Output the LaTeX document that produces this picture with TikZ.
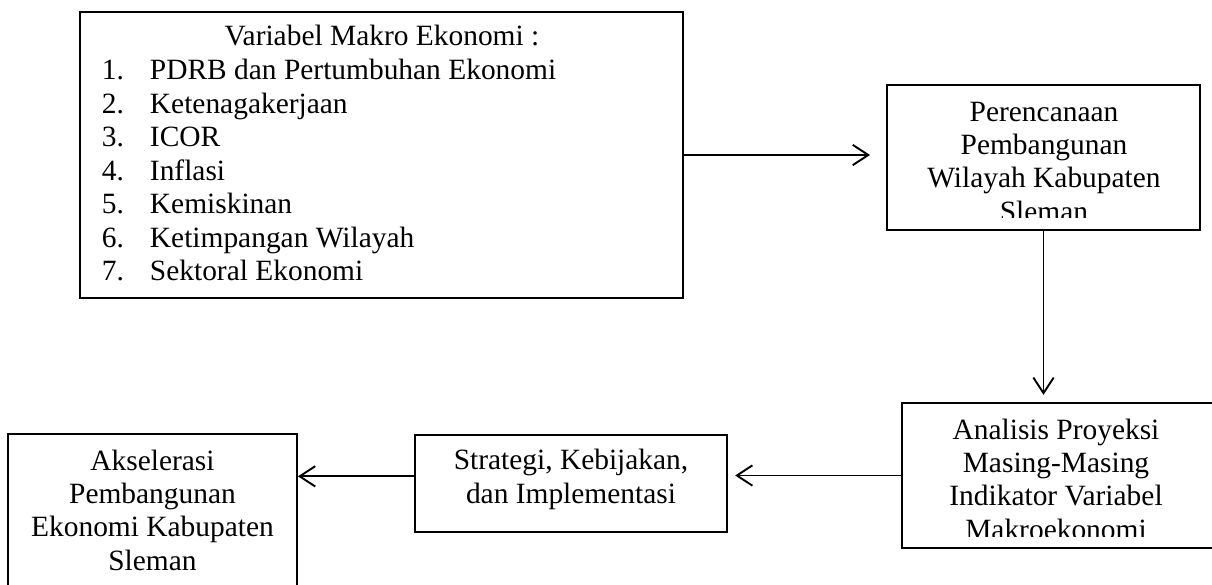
\documentclass[tikz,border=0pt]{standalone}
\usepackage{fontspec}
\setmainfont{Liberation Serif}
\usetikzlibrary{arrows.meta,fit}

\tikzset{
  kotak/.style={draw, inner sep=0pt},
  teks/.style={align=center, inner sep=0pt, font=\fontsize{12.3}{13.8}\selectfont},
  baris/.style={inner sep=0pt, font=\fontsize{12.3}{13.8}\selectfont},
}

\begin{document}
\begin{tikzpicture}[x=0.418pt, y=-0.418pt, line width=0.8pt,
    >={Straight Barb[length=6.5pt,width=8.5pt]}]
    \useasboundingbox (0,0) rectangle (1212,584);
    \node[kotak, fit={(80,12) (683,298)}] (var) {};
    \node[kotak, fit={(887,85) (1200,230)}] (ren) {};
    \node[kotak, fit={(902,403) (1216,548)}] (ana) {};
    \node[kotak, fit={(415,435) (727,532)}] (str) {};
    \node[kotak, fit={(8,434) (297,600)}] (aks) {};

    \node[baris, anchor=base] (judul) at (382,46) {Variabel Makro Ekonomi :};
    \foreach \isi [count=\i] in {PDRB dan Pertumbuhan Ekonomi, Ketenagakerjaan, ICOR,
        Inflasi, Kemiskinan, Ketimpangan Wilayah, Sektoral Ekonomi}{
      \node[baris, anchor=base west] (no\i) at (101,46+33.5*\i) {\i.};
      \node[baris, anchor=base west] (isi\i) at (149,46+33.5*\i) {\isi};
    }

    \begin{scope}
      \clip (887,85) rectangle (1200,217);
      \node[teks, anchor=base] (renT) at (1044,221)
        {Perencanaan\\Pembangunan\\Wilayah Kabupaten\\Sleman};
    \end{scope}
    \begin{scope}
      \clip (902,403) rectangle (1216,536);
      \node[teks, anchor=base] (anaT) at (1056,539)
        {Analisis Proyeksi\\Masing-Masing\\Indikator Variabel\\Makroekonomi};
    \end{scope}
    \node[teks, anchor=base] (strT) at (571,503) {Strategi, Kebijakan,\\dan Implementasi};
    \node[teks, anchor=base] (aksT) at (152.5,570)
      {Akselerasi\\Pembangunan\\Ekonomi Kabupaten\\Sleman};

    \draw[->, shorten >=6.7pt] (var.east) -- (var.east -| ren.west);
    \draw[->, shorten >=3pt] (ren.south) -- (ren.south |- ana.north);
    \draw[->, shorten >=3pt] (ana.west) -- (ana.west -| str.east);
    \draw[->] ([yshift=3pt]str.west) -- ([yshift=3pt]str.west -| aks.east);
\end{tikzpicture}
\end{document}
